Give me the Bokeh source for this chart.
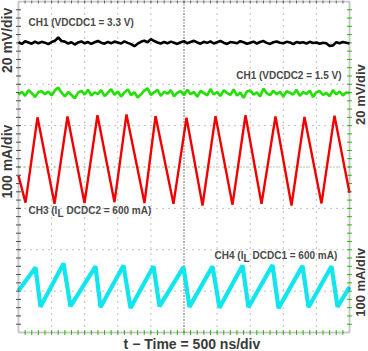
import numpy as np
from bokeh.plotting import figure
from bokeh.models import Range1d, Label, BoxAnnotation
from bokeh.embed import file_html
from bokeh.resources import INLINE

# ---------------- data ----------------
# time base 500 ns/div, 10 divisions
t_noise_ns = list(range(0, 5001, 50))

# CH1, VDCDC1 = 3.3 V, ripple in mV (20 mV/div)
vdcdc1_dev_mV = [0.3, -0.5, 0.8, 0.2, -0.4, 0.6, -0.2, 0.5, 0.1, -0.6,
                 0.4, 1.0, 2.6, 0.9, 0.6, -0.3, 0.3, -0.8, 0.2, 0.7,
                 -0.2, 0.4, -0.5, 0.3, 0.9, 0.1, -0.4, 0.5, -0.2, 0.6,
                 0.2, -0.3, 0.7, 0.0, -0.6, -1.6, -0.4, 0.5, 1.1, 0.3,
                 1.8, 0.9, 0.2, -0.3, 0.4, -0.2, 0.6, 0.1, -0.5, 0.3,
                 0.8, -0.2, 0.4, 1.0, 0.2, -0.4, 0.5, 0.0, 0.7, -0.3,
                 0.3, 0.9, 0.1, -0.5, 0.4, 0.2, -0.2, 0.8, 0.3, -0.4,
                 0.1, 0.6, -0.3, 0.4, 0.9, 0.0, -0.5, 0.3, 0.7, 0.1,
                 -0.2, 0.5, 0.2, -0.6, 0.4, 0.0, 0.3, -0.3, 0.5, -0.1,
                 0.2, -0.4, 0.1, -0.2, -1.5, -1.2, 0.3, -0.2, 0.4, 0.1,
                 -0.3]

# CH1, VDCDC2 = 1.5 V, ripple in mV (20 mV/div)
vdcdc2_dev_mV = [-0.5, 0.8, -1.2, 1.5, 0.2, -1.8, 0.6, 1.0, -0.4, 0.9,
                 -1.0, 1.4, 2.8, 0.3, -1.5, 0.7, -0.8, -2.4, 0.4, 1.2,
                 -0.6, 1.8, -1.1, 0.5, -0.3, 1.6, -1.3, 0.2, 2.0, -0.7,
                 0.9, -1.6, 0.4, 1.9, -0.9, 0.6, -2.0, -0.5, 1.3, 2.4,
                 -0.8, 0.5, 1.7, -1.2, 0.8, -0.2, 1.5, -1.4, 0.3, 1.1,
                 -0.9, 1.8, -0.4, 0.6, -1.7, 1.2, 0.1, -1.0, 2.1, -0.6,
                 0.7, -1.3, 1.5, 0.2, -0.8, 1.9, -1.1, 0.4, -2.2, 0.9,
                 1.4, -0.7, 0.5, -1.5, 2.3, 0.1, -0.9, 1.2, -0.4, 0.8,
                 -1.6, 1.0, 0.3, -0.6, 1.7, -1.2, 0.6, -0.3, 1.3, -1.8,
                 0.5, 1.1, -0.8, 0.2, -1.4, 1.6, -0.5, 0.9, -1.0, 0.4,
                 0.2]

# CH3, inductor current DCDC2 (100 mA/div), turning points
il2_t_ns = [0, 106, 287, 544, 740, 997, 1193, 1450, 1631, 1903, 2070,
            2341, 2538, 2780, 2976, 3233, 3429, 3671, 3882, 4124, 4320,
            4577, 4773, 5000]
il2_mA = [562, 497, 703, 494, 705, 496, 708, 498, 710, 496, 706,
          494, 702, 490, 706, 492, 708, 494, 705, 490, 704,
          495, 707, 521]

# CH4, inductor current DCDC1 (100 mA/div), turning points
il1_t_ns = [0, 257, 332, 680, 785, 1163, 1239, 1586, 1692, 2039, 2130,
            2492, 2583, 2931, 3036, 3384, 3474, 3837, 3928, 4290, 4381,
            4728, 4819, 5000]
il1_mA = [591, 647, 552, 657, 553, 650, 551, 652, 549, 650, 553,
          648, 552, 650, 550, 652, 551, 653, 549, 651, 551,
          650, 552, 600]

# ---------------- screen layout ----------------
N_XDIV, N_YDIV, NS_PER_DIV = 10, 8, 500
T_END = N_XDIV * NS_PER_DIV
POS_CH1A, POS_CH1B, POS_CH3, POS_CH4 = 7.0, 5.78, 4.17, 1.10
MV_PER_DIV, MA_PER_DIV, I_REF = 20.0, 100.0, 600.0

y_ch1a = [POS_CH1A + v / MV_PER_DIV for v in vdcdc1_dev_mV]
y_ch1b = [POS_CH1B + v / MV_PER_DIV for v in vdcdc2_dev_mV]
y_ch3 = [POS_CH3 + (i - I_REF) / MA_PER_DIV for i in il2_mA]
y_ch4 = [POS_CH4 + (i - I_REF) / MA_PER_DIV for i in il1_mA]

W, H = 368, 351
L_PX, R_PX, T_PX, B_PX = 18, 19, 1, 19
sx = T_END / (W - L_PX - R_PX)
sy = N_YDIV / (H - T_PX - B_PX)

p = figure(width=W, height=H,
           x_range=Range1d(-L_PX * sx, T_END + R_PX * sx),
           y_range=Range1d(-B_PX * sy, N_YDIV + T_PX * sy),
           output_backend="svg", toolbar_location=None,
           min_border=0, background_fill_color="white", border_fill_color="white",
           outline_line_color=None)
p.axis.visible = False
p.grid.visible = False

# graticule: dotted division lines
xdiv = [NS_PER_DIV * k for k in range(1, N_XDIV)]
ydiv = [k for k in range(1, N_YDIV)]
p.segment(x0=xdiv, y0=[0] * len(xdiv), x1=xdiv, y1=[N_YDIV] * len(xdiv),
          line_color="black", line_dash="1 5", line_alpha=0.5, line_width=1)
p.segment(x0=[0] * len(ydiv), y0=ydiv, x1=[T_END] * len(ydiv), y1=ydiv,
          line_color="black", line_dash="1 5", line_alpha=0.5, line_width=1)
# centre lines (denser)
p.segment(x0=[T_END / 2], y0=[0], x1=[T_END / 2], y1=[N_YDIV],
          line_color="black", line_dash="1 2", line_alpha=0.8, line_width=1)
p.segment(x0=[0], y0=[N_YDIV / 2], x1=[T_END], y1=[N_YDIV / 2],
          line_color="#22cc00", line_dash="1 4", line_alpha=0.9, line_width=1)

# minor tick marks along the frame (0.2 div)
ymin = [0.2 * k for k in range(1, 5 * N_YDIV)]
xmin = [NS_PER_DIV * 0.2 * k for k in range(1, 5 * N_XDIV)]
p.scatter(x=[0] * len(ymin), y=ymin, marker="dash", size=5, line_color="black",
          line_alpha=0.7, line_width=1)
p.scatter(x=[T_END] * len(ymin), y=ymin, marker="dash", size=5, line_color="#22cc00",
          line_width=1)
p.scatter(x=xmin, y=[0] * len(xmin), marker="dash", angle=np.pi / 2, size=5,
          line_color="#22cc00", line_width=1)
p.scatter(x=xmin, y=[N_YDIV] * len(xmin), marker="dash", angle=np.pi / 2, size=4,
          line_color="black", line_alpha=0.6, line_width=1)

# traces
p.line(t_noise_ns, y_ch1a, line_color="black", line_width=2.6)
p.line(t_noise_ns, y_ch1b, line_color="#22e000", line_width=2.6)
p.line(il2_t_ns, y_ch3, line_color="#f20000", line_width=2.4)
p.line(il1_t_ns, y_ch4, line_color="#11e6ee", line_width=4.2)

# screen frame
p.add_layout(BoxAnnotation(left=0, right=T_END, bottom=0, top=N_YDIV,
                           fill_color=None, line_color="#4a4a4a", line_width=2))

# in-plot labels
def lab(x, y, text, align="left", xoff=0, yoff=0, size="10px", color="#4a4a4a"):
    p.add_layout(Label(x=x, y=y, text=text, text_align=align, text_baseline="middle",
                       x_offset=xoff, y_offset=yoff, text_font="Liberation Sans",
                       text_font_style="bold", text_font_size=size, text_color=color))

lab(151, 7.49, "CH1 (VDCDC1 = 3.3 V)")
lab(4879, 6.21, "CH1 (VDCDC2 = 1.5 V)", align="right")
lab(151, 2.95, "CH3 (I")
lab(151, 2.95, "L", xoff=29, yoff=-3)
lab(151, 2.95, "DCDC2 = 600 mA)", xoff=38)
lab(2961, 1.86, "CH4 (I")
lab(2961, 1.86, "L", xoff=29, yoff=-3)
lab(2961, 1.86, "DCDC1 = 600 mA)", xoff=38)

# outer labels
def olab(x, y, text, angle=0.0, size="14px"):
    p.add_layout(Label(x=x, y=y, text=text, angle=angle, text_align="center",
                       text_baseline="middle", text_font="Liberation Sans",
                       text_font_style="bold", text_font_size=size, text_color="#3a3a3a"))

olab(-12 * sx, 7.06, "20 mV/div", np.pi / 2)
olab(-12 * sx, 4.13, "100 mA/div", np.pi / 2)
olab(T_END + 11 * sx, 5.75, "20 mV/div", np.pi / 2, "13px")
olab(T_END + 11 * sx, 1.21, "100 mA/div", np.pi / 2, "13px")
olab(2620, -11 * sy, "t \u2212 Time = 500 ns/div")

open("out.html", "w").write(file_html(p, INLINE))
